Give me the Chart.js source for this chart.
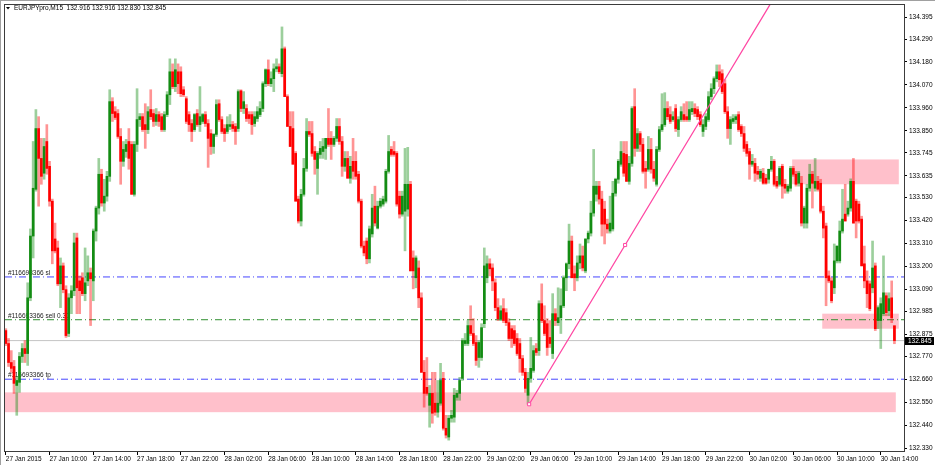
<!DOCTYPE html>
<html><head><meta charset="utf-8">
<script src="https://cdn.jsdelivr.net/npm/chart.js"></script>
<style>html,body{margin:0;padding:0;background:#fff;overflow:hidden}#wrap{width:935px;height:465px;position:relative}</style>
</head><body><div id="wrap"><canvas id="c" width="935" height="465"></canvas></div>
<script>
const chartTitle = 'EURJPYpro,M15  132.916 132.916 132.830 132.845';

const xTickBars = [0,16,32,48,64,80,96,112,128,144,160,176,192,208,224,240,256,272,288,304,320];
const xTickLabels = ['27 Jan 2015','27 Jan 10:00','27 Jan 14:00','27 Jan 18:00','27 Jan 22:00',
 '28 Jan 02:00','28 Jan 06:00','28 Jan 10:00','28 Jan 14:00','28 Jan 18:00','28 Jan 22:00',
 '29 Jan 02:00','29 Jan 06:00','29 Jan 10:00','29 Jan 14:00','29 Jan 18:00','29 Jan 22:00',
 '30 Jan 02:00','30 Jan 06:00','30 Jan 10:00','30 Jan 14:00'];
const yTickLabels = ['134.395','134.290','134.180','134.070','133.960','133.850','133.745','133.635','133.530','133.420',
 '133.310','133.200','133.090','132.985','132.875','132.770','132.660','132.550','132.440','132.330'];

const opens = [
132.893,132.831,132.740,132.721,132.630,132.645,132.769,132.807,132.783,133.050,
133.346,133.570,133.861,133.718,133.647,133.799,133.680,133.513,133.332,133.289,
133.117,133.203,133.089,132.879,133.050,133.084,133.337,133.131,133.146,133.070,
133.131,133.170,133.131,133.370,133.480,133.642,133.504,133.537,133.632,133.990,
133.942,133.933,133.823,133.704,133.751,133.799,133.785,133.546,133.785,133.904,
133.918,133.880,133.856,133.952,133.933,133.895,133.928,133.918,133.856,133.928,
134.023,134.133,134.062,134.133,
134.133,134.047,134.004,133.928,133.885,133.856,133.933,133.880,133.895,133.928,
133.885,133.837,133.775,133.833,133.980,133.904,133.861,133.847,133.871,133.880,
133.871,133.861,134.042,133.957,133.957,133.928,133.928,133.885,133.909,133.928,
133.957,134.076,134.143,134.076,134.100,134.147,134.157,134.124,134.243,134.014,
133.871,133.861,133.742,133.523,133.418,133.546,133.670,133.847,133.837,133.751,
133.670,133.737,133.751,133.766,133.814,133.814,133.785,133.814,133.871,133.799,
133.680,133.718,133.623,133.704,133.704,133.642,
133.513,133.298,133.322,133.237,133.356,133.489,133.384,133.489,133.499,133.513,
133.656,133.761,133.751,133.742,133.537,133.451,133.465,133.475,133.594,133.241,
133.146,133.193,133.050,132.693,132.621,132.535,132.592,132.545,132.502,132.545,
132.664,132.425,132.383,132.473,132.478,132.573,132.592,132.664,132.831,132.831,
132.917,132.879,132.836,132.764,132.764,132.926,133.146,133.213,133.193,133.122,
133.003,132.950,132.998,132.979,132.931,132.902,132.893,132.855,132.831,132.759,
132.693,132.583,132.664,132.702,
132.807,132.797,133.022,132.941,132.926,132.860,132.783,132.974,132.931,132.955,
133.012,133.146,133.213,133.322,133.165,133.146,133.217,133.251,133.179,133.332,
133.360,133.456,133.546,133.585,133.523,133.475,133.403,133.370,133.380,133.551,
133.618,133.690,133.742,133.737,133.608,133.694,133.966,133.766,133.837,133.785,
133.670,133.666,133.761,133.666,133.594,133.761,133.856,133.880,133.957,133.928,
133.904,133.957,133.856,133.904,133.928,133.918,133.904,133.942,133.957,133.952,
133.928,133.847,133.871,133.904,134.014,
134.052,134.100,134.133,134.124,134.076,133.942,133.861,133.895,133.904,133.928,
133.871,133.837,133.785,133.751,133.690,133.694,133.656,133.623,133.647,133.623,
133.618,133.666,133.704,133.608,133.594,133.680,133.594,133.561,133.575,133.670,
133.642,133.599,133.599,133.408,133.408,133.575,133.642,133.575,133.608,133.599,
133.465,133.394,133.155,133.131,133.098,133.227,133.227,133.370,133.451,133.451,
133.480,133.608,133.513,133.499,133.427,133.213,133.131,133.117,133.098,133.203,
132.941,132.941,132.974,133.060,132.988,133.050,132.916];

const highs = [
132.902,132.855,132.797,132.750,132.673,132.788,132.831,132.845,133.122,133.380,
133.799,133.952,133.918,133.814,133.814,133.880,133.704,133.523,133.408,133.322,
133.241,133.217,133.108,133.070,133.108,133.360,133.360,133.155,133.170,133.289,
133.251,133.193,133.380,133.489,133.718,133.666,133.618,133.656,134.047,134.009,
133.966,133.952,133.861,133.799,133.809,133.861,133.799,133.799,134.052,133.933,
133.933,133.980,133.966,134.047,133.952,133.957,133.942,133.933,133.942,134.038,
134.195,134.171,134.195,134.171,
134.157,134.062,134.014,133.942,133.904,133.933,133.952,134.062,133.933,133.942,
133.904,133.856,133.837,133.999,133.999,133.918,133.880,133.918,133.928,133.895,
133.885,134.047,134.047,134.038,133.976,133.942,133.942,133.942,133.966,133.990,
134.085,134.147,134.190,134.133,134.171,134.195,134.171,134.348,134.252,134.023,
133.942,133.942,133.751,133.537,133.570,133.718,133.909,133.895,133.895,133.775,
133.751,133.799,133.814,133.814,133.957,133.847,133.823,133.909,133.909,133.823,
133.751,133.751,133.728,133.814,133.751,133.656,
133.523,133.322,133.337,133.394,133.546,133.585,133.513,133.527,133.537,133.666,
133.828,133.775,133.799,133.751,133.561,133.561,133.766,133.771,133.608,133.275,
133.251,133.227,133.074,132.750,132.764,132.630,132.693,132.693,132.654,132.736,
132.693,132.487,132.487,132.511,132.616,132.607,132.669,132.855,132.879,132.941,
133.012,132.950,132.869,132.845,132.926,133.289,133.251,133.237,133.213,133.141,
133.046,133.012,133.046,132.998,132.950,132.917,132.917,132.879,132.855,132.774,
132.712,132.693,132.860,132.821,
132.831,133.036,133.117,133.012,132.950,132.941,133.070,132.998,133.098,133.093,
133.155,133.217,133.403,133.346,133.203,133.251,133.308,133.298,133.332,133.370,
133.513,133.761,133.608,133.608,133.561,133.513,133.427,133.537,133.608,133.623,
133.713,133.799,133.799,133.799,133.728,133.966,134.052,133.861,133.847,133.814,
133.704,133.823,133.814,133.704,133.775,133.871,134.028,134.033,133.990,133.966,
133.942,133.976,133.918,133.966,133.980,133.990,133.990,133.990,133.980,133.966,
133.942,133.904,133.933,134.038,134.076,
134.109,134.166,134.166,134.143,134.095,133.966,133.918,133.928,133.928,133.942,
133.880,133.871,133.799,133.766,133.737,133.718,133.680,133.666,133.670,133.642,
133.666,133.728,133.713,133.632,133.680,133.690,133.618,133.594,133.680,133.680,
133.656,133.656,133.632,133.489,133.594,133.690,133.656,133.718,133.632,133.618,
133.489,133.408,133.179,133.146,133.308,133.298,133.418,133.570,133.594,133.513,
133.620,133.718,133.523,133.513,133.441,133.298,133.179,133.131,133.322,133.217,
133.012,133.050,133.251,133.074,133.074,133.131,132.916];

const lows = [
132.821,132.721,132.693,132.592,132.487,132.597,132.740,132.740,132.726,133.036,
133.241,133.561,133.489,133.594,133.618,133.642,133.489,133.213,133.265,133.108,
133.003,133.074,132.860,132.864,132.974,133.060,132.974,132.974,133.060,133.036,
133.108,132.917,133.036,133.322,133.451,133.489,133.465,133.513,133.608,133.895,
133.904,133.814,133.594,133.680,133.723,133.666,133.546,133.537,133.751,133.871,
133.847,133.766,133.837,133.904,133.871,133.876,133.871,133.847,133.847,133.918,
133.976,134.052,134.038,134.028,
134.014,134.014,133.885,133.847,133.799,133.847,133.871,133.847,133.885,133.871,
133.675,133.737,133.742,133.823,133.895,133.837,133.799,133.837,133.856,133.847,
133.785,133.847,133.942,133.933,133.895,133.885,133.833,133.871,133.895,133.918,
133.942,134.062,134.066,134.062,134.038,134.133,134.124,134.109,134.014,133.871,
133.775,133.690,133.513,133.408,133.394,133.537,133.656,133.823,133.728,133.642,
133.546,133.718,133.718,133.713,133.775,133.713,133.775,133.799,133.785,133.632,
133.656,133.623,133.599,133.618,133.618,133.504,
133.289,133.251,133.213,133.217,133.341,133.394,133.380,133.480,133.489,133.504,
133.647,133.728,133.728,133.489,133.432,133.441,133.275,133.441,133.179,133.093,
133.098,133.003,132.693,132.526,132.583,132.430,132.449,132.487,132.478,132.535,
132.416,132.378,132.368,132.454,132.454,132.559,132.559,132.654,132.821,132.821,
132.869,132.821,132.726,132.717,132.750,132.907,133.122,133.155,133.084,132.988,
132.941,132.941,132.931,132.917,132.845,132.812,132.821,132.774,132.693,132.678,
132.597,132.540,132.645,132.693,
132.774,132.774,132.931,132.869,132.774,132.812,132.759,132.917,132.917,132.879,
133.003,133.084,133.189,133.146,133.084,133.131,133.189,133.179,133.170,133.313,
133.346,133.441,133.513,133.499,133.346,133.308,133.360,133.360,133.370,133.537,
133.599,133.680,133.632,133.608,133.594,133.680,133.728,133.751,133.751,133.647,
133.575,133.656,133.647,133.608,133.585,133.751,133.847,133.871,133.904,133.885,
133.895,133.847,133.823,133.895,133.895,133.895,133.895,133.928,133.918,133.904,
133.871,133.823,133.856,133.895,133.999,
134.028,134.085,134.062,134.028,133.933,133.814,133.785,133.885,133.885,133.847,
133.823,133.751,133.728,133.618,133.680,133.608,133.618,133.608,133.594,133.594,
133.599,133.656,133.585,133.575,133.585,133.527,133.551,133.551,133.561,133.632,
133.585,133.585,133.394,133.384,133.384,133.561,133.480,133.561,133.561,133.456,
133.337,133.012,133.122,133.026,133.070,133.217,133.217,133.360,133.418,133.441,
133.465,133.408,133.337,133.408,133.203,133.098,133.003,132.988,133.074,132.893,
132.902,132.807,132.964,132.964,132.964,132.931,132.830];

const closes = [
132.831,132.740,132.712,132.640,132.654,132.769,132.807,132.783,133.050,133.346,
133.575,133.861,133.718,133.632,133.775,133.670,133.513,133.275,133.275,133.117,
133.203,133.089,132.869,133.050,133.084,133.313,133.098,133.084,133.070,133.122,
133.170,133.141,133.370,133.480,133.642,133.504,133.537,133.632,133.990,133.933,
133.914,133.823,133.704,133.761,133.785,133.718,133.546,133.785,133.904,133.918,
133.856,133.856,133.942,133.918,133.895,133.928,133.895,133.856,133.928,134.023,
134.133,134.062,134.143,134.076,
134.028,134.023,133.895,133.880,133.847,133.928,133.880,133.918,133.928,133.885,
133.814,133.775,133.833,133.976,133.904,133.847,133.837,133.880,133.880,133.861,
133.847,134.038,133.957,133.990,133.909,133.909,133.880,133.918,133.942,133.957,
134.076,134.143,134.076,134.100,134.147,134.157,134.133,134.243,134.014,133.871,
133.775,133.690,133.513,133.418,133.546,133.670,133.847,133.833,133.742,133.713,
133.742,133.766,133.775,133.814,133.785,133.785,133.814,133.871,133.799,133.680,
133.718,133.623,133.680,133.656,133.632,133.513,
133.298,133.265,133.237,133.380,133.480,133.408,133.489,133.513,133.523,133.656,
133.751,133.737,133.737,133.499,133.451,133.537,133.594,133.594,133.179,133.179,
133.241,133.050,132.693,132.592,132.592,132.592,132.497,132.502,132.545,132.654,
132.425,132.392,132.473,132.487,132.583,132.592,132.654,132.845,132.845,132.917,
132.879,132.831,132.750,132.836,132.907,133.203,133.213,133.189,133.131,133.003,
132.950,132.988,132.941,132.931,132.855,132.855,132.831,132.783,132.759,132.693,
132.616,132.664,132.712,132.797,
132.788,133.022,132.941,132.879,132.812,132.831,132.974,132.941,132.955,133.012,
133.146,133.213,133.322,133.146,133.146,133.217,133.251,133.193,133.332,133.360,
133.456,133.585,133.585,133.523,133.403,133.403,133.380,133.408,133.551,133.618,
133.704,133.751,133.647,133.608,133.694,133.957,133.766,133.837,133.785,133.656,
133.656,133.761,133.666,133.623,133.761,133.856,133.880,133.957,133.918,133.895,
133.918,133.861,133.904,133.942,133.904,133.904,133.952,133.957,133.933,133.918,
133.880,133.880,133.918,134.014,134.052,
134.100,134.133,134.095,134.038,133.942,133.861,133.904,133.909,133.918,133.856,
133.837,133.766,133.742,133.690,133.704,133.647,133.642,133.656,133.599,133.599,
133.666,133.704,133.594,133.585,133.670,133.585,133.575,133.585,133.670,133.642,
133.594,133.647,133.408,133.480,133.575,133.642,133.599,133.608,133.570,133.465,
133.384,133.146,133.131,133.036,133.227,133.298,133.370,133.427,133.418,133.480,
133.608,133.408,133.418,133.418,133.203,133.131,133.070,132.998,133.193,132.902,
133.003,133.022,133.074,132.979,133.046,132.955,132.845];

// order lines
const levelNames  = ['#116693366 sl', '#116693366 sell 0.30', '#116693366 tp'];
const levelPrices = [133.150, 132.945, 132.660];
const bidPrice = 132.845;

// rectangles (bar index range, price range)
const zoneStartBars = [-5, 287.6, 298.6];
const zoneEndBars   = [325.5, 326.6, 326.6];
const zoneHighs     = [132.597, 133.713, 132.974];
const zoneLows      = [132.502, 133.594, 132.902];

// trend line anchors (bar index, price)
const trendBars   = [191.4, 261.6];
const trendPrices = [132.540, 134.066];

// ---------------------------------------------------------------
const FONT = '"Liberation Sans", Arial, sans-serif';
const FS = 6.5;
Chart.defaults.font.family = FONT;
Chart.defaults.font.size = FS;
Chart.defaults.color = '#000';

const UP = '#138c13', DOWN = '#ff0000';
const UP_W = 'rgba(19,140,19,0.42)', DOWN_W = 'rgba(255,0,0,0.42)';
const LEVEL_COLORS = ['#4646ff', '#2f8f2f', '#4646ff'];
const PINK = '#ffc0cb', TREND = '#ff47a3';

const idx = opens.map((_, i) => i);
const up = i => closes[i] >= opens[i];

const X_MIN = -0.3, X_MAX = 328.5;

const datasets = [];
datasets.push({
  type: 'bar', label: 'body', order: 1, grouped: false,
  data: idx.map(i => ({x: i, y: [opens[i], closes[i]]})),
  backgroundColor: idx.map(i => up(i) ? UP : DOWN),
  barThickness: 2, minBarLength: 1, borderWidth: 0
});
datasets.push({
  type: 'bar', label: 'wick', order: 2, grouped: false,
  data: idx.map(i => ({x: i, y: [lows[i], highs[i]]})),
  backgroundColor: idx.map(i => up(i) ? UP_W : DOWN_W),
  barThickness: 2, minBarLength: 1, borderWidth: 0
});
levelPrices.forEach((p, k) => datasets.push({
  type: 'line', order: 3, data: [{x: X_MIN, y: p}, {x: X_MAX, y: p}],
  borderColor: LEVEL_COLORS[k], borderWidth: 1, borderDash: [7, 3, 1, 3],
  pointRadius: 0, fill: false
}));
datasets.push({
  type: 'line', order: 4, data: [{x: X_MIN, y: bidPrice}, {x: X_MAX, y: bidPrice}],
  borderColor: '#c4c4c4', borderWidth: 1, pointRadius: 0, fill: false
});
const slope = (trendPrices[1] - trendPrices[0]) / (trendBars[1] - trendBars[0]);
const trendMid = {x: (trendBars[0] + trendBars[1]) / 2, y: (trendPrices[0] + trendPrices[1]) / 2};
datasets.push({
  type: 'line', order: 0,
  data: [{x: trendBars[0], y: trendPrices[0]}, trendMid, {x: trendBars[1], y: trendPrices[1]},
         {x: 345, y: trendPrices[0] + slope * (345 - trendBars[0])}],
  borderColor: TREND, borderWidth: 1.3, fill: false, tension: 0,
  pointStyle: 'rect', pointRadius: [2.2, 2.2, 0, 0], pointBorderWidth: 1,
  pointBackgroundColor: '#ffffff', pointBorderColor: TREND
});

const deco = {
  id: 'deco',
  beforeDatasetsDraw(chart) {
    const {ctx, chartArea: a, scales: {x, y}} = chart;
    ctx.save();
    ctx.beginPath(); ctx.rect(a.left, a.top, a.right - a.left, a.bottom - a.top); ctx.clip();
    ctx.fillStyle = PINK;
    zoneStartBars.forEach((s, k) => {
      const x0 = x.getPixelForValue(s), x1 = x.getPixelForValue(zoneEndBars[k]);
      const y0 = y.getPixelForValue(zoneHighs[k]), y1 = y.getPixelForValue(zoneLows[k]);
      ctx.fillRect(x0, y0, x1 - x0, y1 - y0);
    });
    ctx.font = FS + 'px ' + FONT; ctx.fillStyle = '#222'; ctx.textAlign = 'left'; ctx.textBaseline = 'bottom';
    levelNames.forEach((n, k) => ctx.fillText(n, 8, Math.round(y.getPixelForValue(levelPrices[k])) - 0.5));
    ctx.restore();
  },
  afterDraw(chart) {
    const {ctx, chartArea: a, scales: {y}} = chart;
    ctx.save();
    ctx.strokeStyle = '#a0a0a0'; ctx.lineWidth = 1;
    ctx.beginPath(); ctx.moveTo(0.5, 0); ctx.lineTo(0.5, 465); ctx.moveTo(0, 0.5); ctx.lineTo(935, 0.5); ctx.stroke();
    ctx.strokeStyle = '#3c3c3c';
    ctx.strokeRect(a.left - 0.5, a.top - 0.5, a.right - a.left + 1, a.bottom - a.top + 1);
    ctx.fillStyle = '#000';
    ctx.beginPath(); ctx.moveTo(6, 7); ctx.lineTo(10, 7); ctx.lineTo(8, 9.5); ctx.closePath(); ctx.fill();
    ctx.font = FS + 'px ' + FONT; ctx.textBaseline = 'middle'; ctx.textAlign = 'left';
    ctx.fillText(chartTitle, 14, 8.5);
    if (opens.length !== 326 || highs.length !== 326 || lows.length !== 326 || closes.length !== 326) {
      ctx.fillStyle = 'red'; ctx.font = '14px sans-serif';
      ctx.fillText('len ' + opens.length + ' ' + highs.length + ' ' + lows.length + ' ' + closes.length, 300, 30);
    }
    const py = Math.round(y.getPixelForValue(bidPrice));
    ctx.fillStyle = '#000'; ctx.fillRect(a.right + 1, py - 4, 29, 8);
    ctx.fillStyle = '#fff'; ctx.font = FS + 'px ' + FONT; ctx.textBaseline = 'middle';
    ctx.fillText(bidPrice.toFixed(3), a.right + 4, py + 0.5);
    ctx.restore();
  }
};

new Chart(document.getElementById('c'), {
  type: 'bar',
  data: {datasets},
  options: {
    responsive: false, animation: false, devicePixelRatio: 1, events: [],
    layout: {padding: {left: 4, top: 3, right: 0, bottom: 0}},
    plugins: {legend: {display: false}, tooltip: {enabled: false}},
    scales: {
      x: {
        type: 'linear', min: X_MIN, max: X_MAX, offset: false,
        grid: {drawOnChartArea: false, drawTicks: true, tickLength: 4, color: '#000', offset: false},
        border: {display: false},
        ticks: {autoSkip: false, maxRotation: 0, minRotation: 0, align: 'start', padding: 0,
                font: {size: FS}, color: '#000',
                callback: (v, i) => xTickLabels[i]},
        afterBuildTicks: s => { s.ticks = xTickBars.map(v => ({value: v})); },
        afterFit: s => { s.height = 14; s.paddingLeft = 0; s.paddingRight = 0; }
      },
      y: {
        type: 'linear', position: 'right', min: 132.316, max: 134.453,
        grid: {drawOnChartArea: false, drawTicks: true, tickLength: 3, color: '#000'},
        border: {display: false},
        ticks: {padding: 2, font: {size: FS}, color: '#000', autoSkip: false,
                callback: (v, i) => yTickLabels[i]},
        afterBuildTicks: s => { s.ticks = yTickLabels.map(t => ({value: parseFloat(t)})); },
        afterFit: s => { s.width = 31; s.paddingTop = 0; s.paddingBottom = 0; }
      }
    }
  },
  plugins: [deco]
});
</script>
</body></html>
